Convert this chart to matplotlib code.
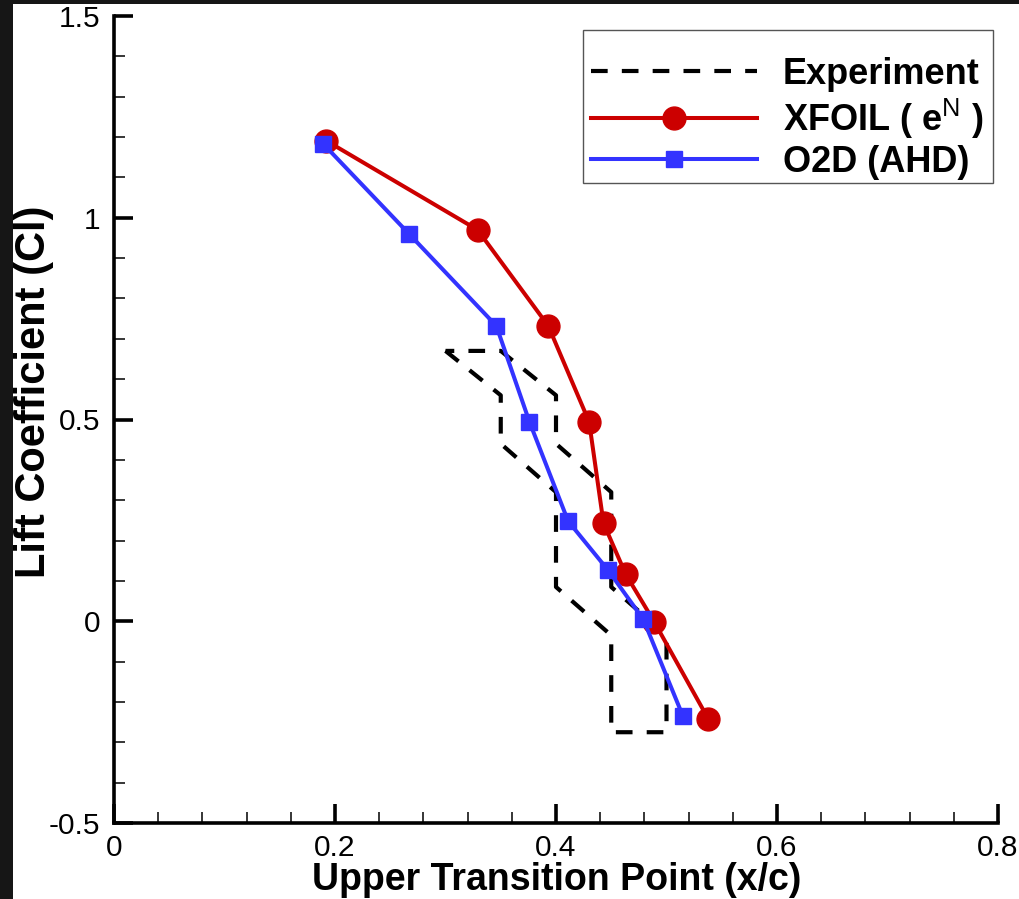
import matplotlib
matplotlib.use("Agg")
import matplotlib.pyplot as plt
from matplotlib.patches import Rectangle
from matplotlib.ticker import MultipleLocator

plt.rcParams['font.family'] = ['Liberation Sans', 'DejaVu Sans']
plt.rcParams['mathtext.fontset'] = 'custom'
plt.rcParams['mathtext.rm'] = 'Liberation Sans'
plt.rcParams['mathtext.it'] = 'Liberation Sans:italic'
plt.rcParams['mathtext.bf'] = 'Liberation Sans:bold'

# Experimental transition band: lower (forward) and upper (aft) bounds
exp_cl = [0.67, 0.56, 0.44, 0.32, 0.085, -0.035, -0.275]
exp_x_fwd = [0.30, 0.35, 0.35, 0.40, 0.40, 0.45, 0.45]
exp_x_aft = [0.35, 0.40, 0.40, 0.45, 0.45, 0.50, 0.50]

# XFOIL e^N predictions
xfoil_x = [0.192, 0.329, 0.393, 0.430, 0.443, 0.463, 0.489, 0.538]
xfoil_cl = [1.191, 0.970, 0.732, 0.494, 0.243, 0.117, -0.002, -0.243]

# O2D (AHD) predictions
o2d_x = [0.189, 0.267, 0.346, 0.376, 0.411, 0.447, 0.479, 0.515]
o2d_cl = [1.184, 0.960, 0.732, 0.494, 0.248, 0.127, 0.005, -0.236]

x_ticks = [0, 0.2, 0.4, 0.6, 0.8]
x_ticklabels = ['0', '0.2', '0.4', '0.6', '0.8']
y_ticks = [-0.5, 0, 0.5, 1, 1.5]
y_ticklabels = ['-0.5', '0', '0.5', '1', '1.5']

fig = plt.figure(figsize=(10.2, 8.99), dpi=100)
fig.patch.set_facecolor('white')
W, H = 1020, 899
ax = fig.add_axes([114 / W, 1 - 823 / H, (998 - 114) / W, (823 - 16) / H])

# dark frame strips along the left and top edges
fig.patches.append(Rectangle((0, 0), 13 / W, 1, transform=fig.transFigure,
                             facecolor='#161616', edgecolor='none', zorder=-1))
fig.patches.append(Rectangle((0, 1 - 4 / H), 1, 4 / H, transform=fig.transFigure,
                             facecolor='#161616', edgecolor='none', zorder=-1))

# closed outline of the experimental band
band_x = exp_x_fwd + exp_x_aft[::-1] + [exp_x_fwd[0]]
band_y = exp_cl + exp_cl[::-1] + [exp_cl[0]]
ax.plot(band_x, band_y, color='black', lw=3.0, ls=(0, (4.0, 3.4)),
        label='Experiment', zorder=2)
ax.plot(xfoil_x, xfoil_cl, color='#cc0000', lw=2.9, marker='o', ms=16.5,
        label='XFOIL ( e$^{\\mathrm{N}}$ )', zorder=3)
ax.plot(o2d_x, o2d_cl, color='#3333ff', lw=2.9, marker='s', ms=12,
        label='O2D (AHD)', zorder=4)

ax.set_xlim(0, 0.8)
ax.set_ylim(-0.5, 1.5)
ax.xaxis.set_minor_locator(MultipleLocator(0.04))
ax.yaxis.set_minor_locator(MultipleLocator(0.1))
ax.set_xticks(x_ticks)
ax.set_xticklabels(x_ticklabels)
ax.set_yticks(y_ticks)
ax.set_yticklabels(y_ticklabels)

for s in ['top', 'right']:
    ax.spines[s].set_visible(False)
for s in ['left', 'bottom']:
    ax.spines[s].set_linewidth(2.6)
    ax.spines[s].set_capstyle('projecting')

ax.tick_params(which='major', direction='in', length=14, width=2.6,
               labelsize=21.5, pad=8)
ax.tick_params(which='minor', direction='in', length=8, width=1.1)
ax.tick_params(axis='y', which='major', pad=10)

ax.set_xlabel('Upper Transition Point (x/c)', fontsize=27, fontweight='bold')
ax.xaxis.set_label_coords(0.501, -0.048)
ax.set_ylabel('Lift Coefficient (Cl)', fontsize=30, fontweight='bold')
ax.yaxis.set_label_coords(-0.0675, 0.535)

leg = ax.legend(loc='upper left', bbox_to_anchor=(591 / W, 1 - 57 / H),
                bbox_transform=fig.transFigure, borderaxespad=0, borderpad=0,
                prop={'weight': 'bold', 'size': 26}, numpoints=1,
                handlelength=4.6, handletextpad=0.72, labelspacing=0.12,
                frameon=False)

# legend box outline
fig.patches.append(Rectangle((583 / W, 1 - 183 / H), (993 - 583) / W,
                             (183 - 30) / H, transform=fig.transFigure,
                             facecolor='none', edgecolor='#555555', lw=1.0,
                             zorder=5))

fig.savefig('out.png', dpi=100, facecolor='white')
